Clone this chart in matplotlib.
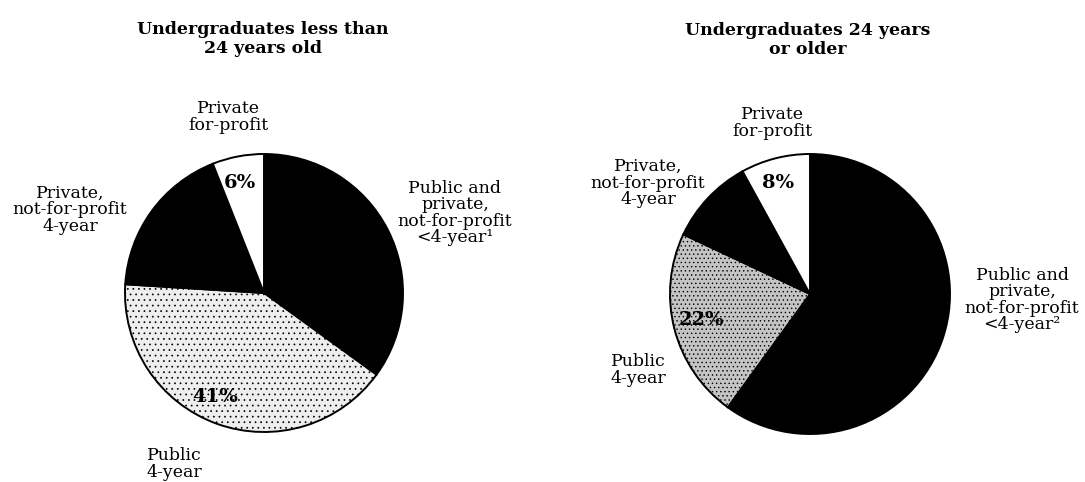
import matplotlib
matplotlib.use("Agg")
import matplotlib.pyplot as plt

# slices go clockwise from 12 o'clock
young_labels = ["Public and\nprivate,\nnot-for-profit\n<4-year\u00b9", "Public\n4-year",
                "Private,\nnot-for-profit\n4-year", "Private\nfor-profit"]
young_values = [35, 41, 18, 6]

older_labels = ["Public and\nprivate,\nnot-for-profit\n<4-year\u00b2", "Public\n4-year",
                "Private,\nnot-for-profit\n4-year", "Private\nfor-profit"]
older_values = [60, 22, 10, 8]

titles = ["Undergraduates less than\n24 years old", "Undergraduates 24 years\nor older"]

plt.rcParams['font.family'] = ['DejaVu Serif']
plt.rcParams['hatch.linewidth'] = 0.5

W, H = 1085, 482
fig = plt.figure(figsize=(W / 100, H / 100), dpi=100)
ax = fig.add_axes([0, 0, 1, 1])


def y(py):
    # pixel row from top -> data y
    return H - py


def draw(values, center, radius, grey, hatch):
    wedges, _ = ax.pie(values, center=center, radius=radius, startangle=90,
                       counterclock=False, colors=["black", grey, "black", "white"],
                       wedgeprops=dict(edgecolor="black", linewidth=1.4))
    wedges[1].set_hatch(hatch)
    return wedges


draw(young_values, (264, y(293)), 139, "#eeeeee", "...")
draw(older_values, (810, y(294)), 140, "#c4c4c4", "....")

ax.set_xlim(0, W)
ax.set_ylim(0, H)
ax.set_aspect("equal")
ax.axis("off")

lab = dict(fontsize=12.5, ha="center", va="center", linespacing=0.95)
pct = dict(fontsize=14, fontweight="bold", ha="center", va="center")
ttl = dict(fontsize=12.5, fontweight="bold", ha="center", va="center", linespacing=1.2)

# left pie
ax.text(263, y(39), titles[0], **ttl)
ax.text(228, y(117), young_labels[3], **lab)
ax.text(455, y(213), young_labels[0], **lab)
ax.text(70, y(210), young_labels[2], **lab)
ax.text(174, y(464), young_labels[1], **lab)
ax.text(240, y(183), f"{young_values[3]}%", **pct)
ax.text(215, y(397), f"{young_values[1]}%", **pct)

# right pie
ax.text(808, y(40), titles[1], **ttl)
ax.text(772, y(123), older_labels[3], **lab)
ax.text(1022, y(300), older_labels[0], **lab)
ax.text(648, y(183), older_labels[2], **lab)
ax.text(638, y(370), older_labels[1], **lab)
ax.text(778, y(183), f"{older_values[3]}%", **pct)
ax.text(702, y(320), f"{older_values[1]}%", **pct)

fig.savefig("out.png", dpi=100, facecolor="white")
